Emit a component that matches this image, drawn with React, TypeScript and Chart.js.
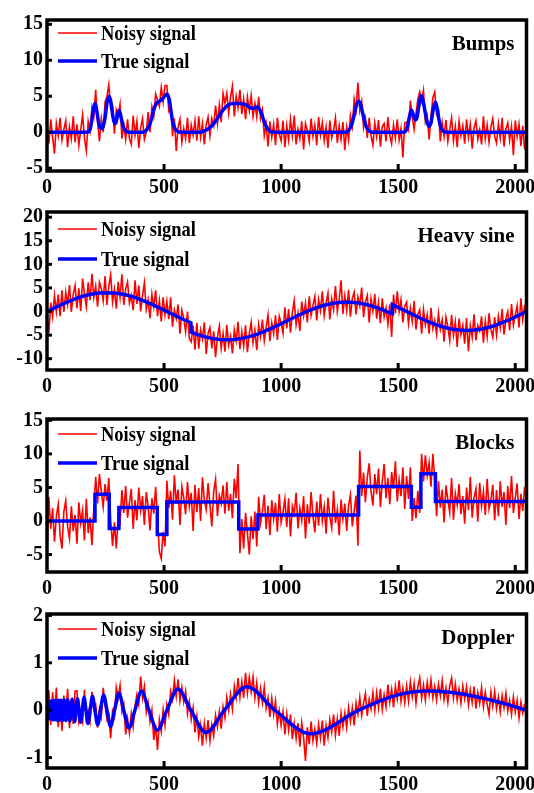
import React, { useEffect, useRef } from "react";
import { Chart, registerables } from "chart.js";

Chart.register(...registerables);

// ---------------- shared axis data ----------------
const X_TICKS = [0, 500, 1000, 1500, 2000];
const X_MAX = 2048;
const SAMPLE_STEP = 8; // spacing (in samples) of the noisy values below

// ---------------- Bumps ----------------
const BUMPS_Y_TICKS = [-5, 0, 5, 10, 15];
const BUMPS_NOISY = [
  0.9,-1.6,1.8,-0.7,-3.0,1.2,-0.5,2.0,-1.1,0.4,1.6,-2.1,0.7,-0.9,2.2,-1.4,
  1.1,-1.8,0.3,2.4,-0.8,-2.6,1.5,0.2,3.4,2.2,5.9,1.4,-1.3,1.9,0.0,4.2,
  5.0,6.6,3.2,3.5,-0.2,3.1,2.3,3.9,-0.9,1.0,-1.0,1.8,-0.9,-1.7,2.3,-0.4,
  1.5,-2.2,0.6,1.9,-1.0,0.0,2.8,0.0,3.5,2.2,5.3,4.5,3.6,6.2,4.2,6.5,
  6.5,3.1,4.1,-0.6,1.9,-2.6,0.7,1.8,-1.4,0.5,-0.9,2.0,-1.5,1.0,-0.4,1.6,
  -1.2,2.2,-0.7,1.2,-1.7,1.0,2.1,-0.5,1.9,0.9,3.7,1.2,3.8,1.4,5.4,4.0,
  5.4,2.6,4.9,6.4,2.2,5.0,3.4,5.9,2.5,4.6,1.8,4.9,3.0,5.1,2.2,4.0,
  2.1,4.9,1.9,3.1,-0.5,1.1,-2.0,1.5,-0.7,1.1,-1.8,2.0,-0.3,-1.2,1.6,-2.1,
  0.9,-1.1,1.8,-0.5,2.3,-1.7,0.4,-0.9,1.5,-2.4,1.2,0.2,-1.3,1.9,-0.6,1.0,
  -1.8,2.1,-0.4,1.3,-1.2,0.7,-2.2,1.6,-0.8,0.3,2.0,-1.5,0.9,-1.0,1.4,-2.5,
  0.7,-1.1,2.3,0.8,4.6,3.1,6.9,3.0,4.3,0.6,1.9,-0.8,2.0,-0.5,-1.8,1.3,
  -0.6,1.7,-2.0,0.8,1.2,-1.3,2.1,-0.4,-1.6,1.0,-0.8,1.8,-1.1,0.5,-3.5,1.3,
  1.4,0.4,4.4,2.1,0.4,2.6,4.6,5.6,4.3,5.8,1.4,2.3,-1.0,2.2,4.8,5.6,
  2.5,3.0,-1.3,1.3,-0.6,1.7,-1.3,0.4,2.0,-1.2,0.8,-2.1,1.5,-0.5,0.9,-1.6,
  1.8,-0.7,1.1,-2.3,0.6,1.6,-1.0,0.3,-1.7,2.2,-0.9,1.0,-1.4,0.7,1.9,-0.6,
  -1.5,1.2,-0.8,2.0,-2.0,0.5,1.3,-1.1,0.8,-3.2,1.6,-0.6,1.1,-1.9,0.9,-2.4,
];
const BUMPS_TRUE_X = [
  0,175,185,193,200,205,210,217,225,232,240,248,256,265,273,281,289,296,302,307,
  313,320,328,338,350,410,425,438,450,460,470,485,498,512,520,528,536,545,556,570,
  650,670,690,710,730,750,770,790,830,850,865,880,895,905,915,925,935,945,958,975,
  1275,1290,1302,1312,1322,1331,1340,1350,1360,1372,1387,1525,1537,1546,1556,1565,1573,1580,1588,1597,
  1606,1614,1622,1631,1640,1649,1659,1667,1675,1684,1695,1710,2047,
];
const BUMPS_TRUE_Y = [
  0,0,0.5,2.0,3.5,4.0,3.5,2.0,0.8,0.5,0.8,2.0,4.0,5.0,4.2,2.3,1.2,1.5,2.5,3.0,
  2.6,1.5,0.6,0.15,0,0,0.3,1.0,2.3,3.5,4.1,4.4,4.8,5.3,4.8,3.3,1.6,0.6,0.15,0,
  0,0.15,0.5,1.1,2.0,3.0,3.7,4.0,4.0,3.8,3.45,3.3,3.5,3.3,2.7,1.7,0.9,0.35,0.05,0,
  0,0.3,1.1,2.4,3.8,4.3,3.8,2.4,1.1,0.3,0,0,0.5,1.8,3.1,2.4,1.7,2.0,3.6,5.1,
  4.4,3.0,1.6,0.8,1.3,3.0,4.2,3.2,1.6,0.5,0.1,0,0,
];

// ---------------- Heavy sine ----------------
const HEAVY_Y_TICKS = [-10, -5, 0, 5, 10, 15, 20];
const HEAVY_NOISY = [
  -0.5,-4.6,1.9,-1.1,3.4,-0.1,3.6,-1.0,4.5,-0.1,4.1,1.5,5.6,-0.1,3.6,5.5,
  0.7,4.9,0.1,7.0,3.7,1.0,6.2,2.4,8.0,3.0,5.4,1.0,6.2,4.9,2.3,7.5,
  1.4,5.4,7.8,2.0,4.7,0.6,6.3,3.0,7.9,1.4,4.8,6.3,1.8,3.4,0.3,6.6,
  1.6,5.5,0.0,3.4,6.1,0.5,2.5,-1.4,3.7,1.0,4.5,-1.0,2.3,-2.1,3.0,-0.7,
  2.2,-1.6,3.0,-3.2,0.3,-1.5,1.5,-4.7,0.3,-1.4,-4.3,0.0,-5.7,-6.4,-3.0,-8.1,
  -2.4,-7.9,-3.9,-5.8,-2.3,-9.0,-4.6,-3.4,-7.8,-4.2,-9.7,-5.4,-3.1,-7.8,-4.7,-8.5,
  -2.8,-7.1,-5.2,-8.9,-3.9,-6.2,-2.2,-8.0,-4.3,-7.3,-2.9,-8.6,-4.7,-2.3,-6.6,-4.0,
  -8.2,-2.8,-5.3,-1.7,-6.2,-3.4,-0.7,-6.3,-2.4,-4.7,-0.8,-6.0,-1.0,-2.4,-4.6,0.9,
  -3.6,0.5,-4.5,-0.2,2.3,-2.8,-0.3,-4.1,2.1,-0.9,1.8,-2.3,3.2,-0.8,1.3,3.2,
  -1.9,2.5,0.2,4.3,-0.9,1.8,3.9,-1.7,2.7,0.4,5.4,0.0,2.6,6.6,-0.5,3.3,
  0.2,4.6,-1.1,2.8,4.1,-0.6,3.1,1.2,5.1,-1.2,2.1,3.4,-2.3,2.7,0.1,3.7,
  -1.5,1.9,-2.5,2.8,-1.2,0.8,-2.7,1.5,-5.4,3.6,-0.4,4.3,0.0,2.5,-2.3,1.1,
  2.0,-2.6,0.7,-2.1,2.2,-3.8,-0.6,0.4,-4.7,0.4,-2.8,-0.7,-4.7,0.8,-3.6,-1.9,
  -4.8,-0.4,-3.8,-1.8,-6.4,-1.2,-3.2,-6.1,-0.7,-5.0,-2.2,-7.5,-1.5,-4.9,-2.9,-6.8,
  -1.4,-8.4,-3.0,-5.5,-0.6,-6.1,-3.0,-4.1,-1.0,-6.6,-2.0,-5.3,-0.4,-3.8,-5.5,-1.2,
  -5.0,-1.0,-3.5,0.5,-4.9,-1.5,0.0,-4.0,1.6,-2.9,-0.8,1.2,-3.4,2.8,-1.7,1.4,
];
const HEAVY_TRUE_X = [
  0,32,64,96,128,160,192,224,256,288,320,352,384,416,448,480,512,544,576,608,614,615,
  640,672,704,736,768,800,832,864,896,928,960,992,1024,1056,1088,1120,1152,1184,1216,1248,
  1280,1312,1344,1376,1408,1440,1472,1474,1475,1504,1536,1568,1600,1632,1664,1696,1728,1760,
  1792,1824,1856,1888,1920,1952,1984,2016,2047,
];
const HEAVY_TRUE_Y = [
  0,0.78,1.53,2.22,2.83,3.33,3.70,3.92,4.0,3.92,3.70,3.33,2.83,2.22,1.53,0.78,0,-0.78,-1.53,-2.22,-2.35,-4.35,
  -4.83,-5.33,-5.70,-5.92,-6.0,-5.92,-5.70,-5.33,-4.83,-4.22,-3.53,-2.78,-2.0,-1.22,-0.47,0.22,0.83,1.33,1.70,1.92,
  2.0,1.92,1.70,1.33,0.83,0.22,-0.47,-0.53,1.47,0.78,0,-0.78,-1.53,-2.22,-2.83,-3.33,-3.70,-3.92,
  -4.0,-3.92,-3.70,-3.33,-2.83,-2.22,-1.53,-0.78,0,
];

// ---------------- Blocks ----------------
const BLOCKS_Y_TICKS = [-5, 0, 5, 10, 15];
const BLOCKS_NOISY = [
  -4.8,3.6,-1.2,1.9,-3.1,0.7,2.5,-2.2,-4.1,1.4,3.0,-0.8,-2.6,2.2,-1.5,0.9,
  -3.4,2.8,-0.3,1.6,-2.9,3.3,-1.8,0.5,-3.6,2.0,6.6,2.6,7.0,4.4,2.1,5.5,
  3.0,6.4,0.2,-3.7,-0.2,-4.1,0.7,-0.3,4.6,1.2,5.2,0.5,2.7,4.8,-1.2,3.1,
  0.1,5.0,1.6,3.7,-0.6,4.3,2.1,-1.4,3.4,1.1,5.1,0.3,-4.6,-5.6,-1.6,-3.8,
  6.0,1.9,4.5,0.2,6.8,2.6,4.7,-0.6,5.1,3.5,1.0,5.8,2.2,4.2,-1.5,5.4,
  1.3,4.9,0.0,6.5,3.1,1.7,5.6,2.4,-0.8,4.4,6.2,0.7,3.8,2.6,5.3,1.1,
  5.8,1.5,4.0,0.4,6.3,3.4,8.5,-4.8,0.3,-4.1,1.2,-1.8,-5.0,0.7,-2.7,1.4,
  -3.8,3.6,-0.3,1.4,3.9,-1.2,2.3,-2.1,3.1,0.3,2.7,-1.6,4.0,-0.2,1.3,3.3,
  -0.9,3.4,-2.3,2.2,1.1,4.2,-1.1,1.9,0.1,3.7,-2.6,2.5,-0.4,4.3,0.7,-1.7,
  2.9,-0.7,4.0,0.0,2.1,-1.9,3.5,0.6,-1.0,4.5,-0.3,1.7,-2.1,3.2,0.3,2.6,
  -1.5,2.3,3.9,-0.8,1.5,3.8,-3.7,10.5,3.7,7.2,2.8,6.5,8.6,4.4,2.3,7.0,
  4.0,7.8,2.1,5.9,8.5,3.4,6.4,2.5,7.3,4.8,8.9,2.9,6.1,3.7,8.0,1.8,
  6.7,3.3,8.0,0.0,3.4,0.4,4.5,1.2,10.0,5.9,9.8,6.8,8.7,5.1,10.0,6.2,
  0.7,5.9,2.0,4.7,-0.2,5.3,3.2,1.3,6.4,0.2,4.1,2.4,5.5,1.0,3.7,-0.4,
  5.0,1.6,6.6,0.5,3.5,4.8,-0.1,5.7,2.2,4.4,0.9,6.3,1.8,3.1,5.4,0.1,
  4.6,0.7,5.9,2.1,4.3,-0.6,5.2,1.9,6.7,1.2,3.4,5.6,0.3,4.0,1.5,5.1,
];
const BLOCKS_TRUE_X = [0,205,205,266,266,307,307,471,471,512,512,819,819,901,901,1331,1331,1556,1556,1597,1597,1659,1659,2047];
const BLOCKS_TRUE_Y = [0,0,4,4,-1.1,-1.1,2,2,-2,-2,2.85,2.85,-1.2,-1.2,0.9,0.9,5.15,5.15,2.05,2.05,7.05,7.05,2.9,2.9];

// ---------------- Doppler ----------------
const DOPPLER_Y_TICKS = [-1, 0, 1, 2];
const DOPPLER_NOISY = [
  -0.55,0.42,-0.31,0.38,-0.12,0.48,-0.36,0.22,-0.44,0.31,-0.18,0.45,-0.38,0.12,-0.29,0.40,
  0.41,-0.26,-0.12,-0.26,0.43,-0.17,-0.01,-0.23,0.39,0.02,0.11,-0.37,0.02,-0.15,0.47,0.13,
  -0.20,-0.11,-0.59,-0.02,-0.14,0.48,0.26,0.52,-0.03,0.12,-0.51,-0.18,-0.48,-0.07,-0.35,0.09,
  0.33,0.12,0.71,0.26,0.50,-0.05,0.16,-0.24,0.00,-0.63,-0.31,-0.84,-0.20,-0.45,0.01,-0.32,
  0.12,-0.09,0.40,0.23,0.63,0.29,0.65,0.20,0.48,0.17,0.40,-0.07,0.18,-0.20,0.05,-0.47,
  -0.13,-0.56,-0.31,-0.75,-0.28,-0.59,-0.21,-0.65,-0.31,-0.54,-0.11,-0.35,-0.03,-0.39,0.07,-0.16,
  0.27,0.00,0.33,0.02,0.51,0.26,0.68,0.27,0.60,0.26,0.79,0.36,0.69,0.39,0.70,0.26,
  0.58,0.16,0.46,0.16,0.49,0.04,0.26,-0.14,0.25,-0.09,0.19,-0.30,-0.01,-0.32,-0.03,-0.51,
  -0.08,-0.42,-0.09,-0.61,-0.27,-0.60,-0.27,-0.77,-0.27,-0.58,-1.07,-0.36,-0.72,-0.24,-0.65,-0.40,
  -0.70,-0.30,-0.59,-0.22,-0.75,-0.32,-0.58,-0.20,-0.46,-0.09,-0.53,-0.18,-0.54,-0.06,-0.35,-0.06,
  -0.37,0.06,-0.24,0.05,-0.32,0.15,-0.08,0.27,-0.11,0.15,0.35,-0.12,0.23,0.03,0.37,-0.01,
  0.37,0.05,0.45,0.01,0.32,0.07,0.54,0.17,0.44,0.06,0.50,0.24,0.63,0.19,0.47,0.16,
  0.51,0.19,0.60,0.28,0.56,0.15,0.49,0.68,0.25,0.53,0.21,0.59,0.32,0.64,0.26,0.50,
  0.21,0.55,0.30,0.63,0.22,0.47,0.16,0.51,0.68,0.25,0.55,0.21,0.45,0.15,0.51,0.24,
  0.49,0.11,0.43,0.16,0.50,0.03,0.37,0.14,0.48,0.07,0.38,0.13,-0.09,0.38,0.08,0.39,
  0.03,0.28,-0.04,0.31,0.05,0.36,-0.02,0.21,-0.09,0.28,-0.04,0.21,-0.17,0.17,-0.06,0.13,
];
const DOPPLER_TRUE_X = [
  0,1.2,2.5,3.8,5.1,6.5,7.9,9.3,10.8,12.3,13.8,15.4,17.1,18.7,20.5,22.3,24.1,26,27.9,29.9,
  32,34.1,36.3,38.6,41,43.4,45.9,48.5,51.2,54,56.9,59.9,63,66.3,69.6,73.1,76.8,80.6,84.6,88.7,
  93.1,97.6,102.4,107.4,112.6,118.2,124,130.1,136.5,143.4,150.6,158.3,166.4,175.1,184.3,194.2,204.8,216.2,228.4,241.7,
  256,271.6,288.6,307.2,327.7,350.3,375.5,403.6,435.2,471,512,559.3,614.4,679.6,757.8,853,972.8,1126,1331.2,1440,
  1520,1618,1720,1840,1960,2047,
];
const DOPPLER_TRUE_Y = [
  0,-0.15,0,0.16,0,-0.17,0,0.18,0,-0.18,0,0.19,0,-0.19,0,0.2,0,-0.2,0,0.2,
  0,-0.2,0,0.21,0,-0.21,0,0.21,0,-0.21,0,0.21,0,-0.22,0,0.22,0,-0.22,0,0.22,
  0,-0.23,0,0.23,0,-0.24,0,0.244,0,-0.255,0,0.267,0,-0.28,0,0.293,0,-0.307,0,0.323,
  0,-0.339,0,0.357,0,-0.377,0,0.398,0,-0.421,0,0.446,0,-0.471,0,0.493,0,-0.497,0,0.23,
  0.35,0.407,0.38,0.28,0.13,0,
];

// ---------------- styling ----------------
const RED = "#ff0000";
const BLUE = "#0000ff";
const FONT = '"Liberation Serif", "Times New Roman", serif';
const PAGE_W = 534;
const PAGE_H = 793;
const AREA_LEFT = 47;
const AREA_RIGHT = 526.5;

type Panel = {
  title: string;
  noisy: number[];
  trueX: number[];
  trueY: number[];
  yTicks: number[];
  yMin: number;
  yMax: number;
  smooth: boolean;
  areaTop: number;
  areaBottom: number;
  legendDy: [number, number];
};

const PANELS: Panel[] = [
  { title: "Bumps", noisy: BUMPS_NOISY, trueX: BUMPS_TRUE_X, trueY: BUMPS_TRUE_Y, yTicks: BUMPS_Y_TICKS,
    yMin: -5.4, yMax: 15.6, smooth: true, areaTop: 20, areaBottom: 171, legendDy: [13, 41] },
  { title: "Heavy sine", noisy: HEAVY_NOISY, trueX: HEAVY_TRUE_X, trueY: HEAVY_TRUE_Y, yTicks: HEAVY_Y_TICKS,
    yMin: -12.4, yMax: 21.1, smooth: false, areaTop: 212, areaBottom: 370, legendDy: [17, 47] },
  { title: "Blocks", noisy: BLOCKS_NOISY, trueX: BLOCKS_TRUE_X, trueY: BLOCKS_TRUE_Y, yTicks: BLOCKS_Y_TICKS,
    yMin: -7.6, yMax: 15.2, smooth: false, areaTop: 419, areaBottom: 572, legendDy: [15, 44] },
  { title: "Doppler", noisy: DOPPLER_NOISY, trueX: DOPPLER_TRUE_X, trueY: DOPPLER_TRUE_Y, yTicks: DOPPLER_Y_TICKS,
    yMin: -1.22, yMax: 2.03, smooth: true, areaTop: 614, areaBottom: 768, legendDy: [15, 44] },
];

function squeezedText(ctx: CanvasRenderingContext2D, text: string, x: number, y: number, align: CanvasTextAlign, sx: number) {
  ctx.save();
  ctx.translate(x, y);
  ctx.scale(sx, 1);
  ctx.textAlign = align;
  ctx.fillText(text, 0, 0);
  ctx.restore();
}

function makeFramePlugin(p: Panel) {
  return {
    id: "frame",
    afterDraw(chart: any) {
      const ctx: CanvasRenderingContext2D = chart.ctx;
      const a = chart.chartArea;
      const xs = chart.scales.x;
      const ys = chart.scales.y;
      const seg = (x0: number, y0: number, x1: number, y1: number) => {
        ctx.beginPath();
        ctx.moveTo(x0, y0);
        ctx.lineTo(x1, y1);
        ctx.stroke();
      };
      ctx.save();
      ctx.lineCap = "butt";

      // legend
      const lx0 = a.left + 11;
      const lx1 = a.left + 50;
      const ly1 = a.top + p.legendDy[0];
      const ly2 = a.top + p.legendDy[1];
      ctx.strokeStyle = RED;
      ctx.lineWidth = 1.5;
      seg(lx0, ly1, lx1, ly1);
      ctx.strokeStyle = BLUE;
      ctx.lineWidth = 3.5;
      seg(lx0, ly2, lx1, ly2);
      ctx.fillStyle = "#000";
      ctx.textBaseline = "alphabetic";
      ctx.font = `bold 21px ${FONT}`;
      squeezedText(ctx, "Noisy signal", a.left + 54, ly1 + 7, "left", 0.88);
      squeezedText(ctx, "True signal", a.left + 54, ly2 + 7, "left", 0.88);

      // title inside the plot
      ctx.font = `bold 22px ${FONT}`;
      squeezedText(ctx, p.title, a.right - 12, a.top + 30, "right", 0.95);

      // frame
      ctx.strokeStyle = "#000";
      ctx.lineWidth = 3.5;
      ctx.strokeRect(a.left, a.top, a.right - a.left, a.bottom - a.top);

      // ticks and tick labels
      ctx.lineWidth = 3;
      ctx.font = `bold 20px ${FONT}`;
      ctx.textBaseline = "middle";
      const eps = 1e-6;
      for (const v of p.yTicks) {
        const y = ys.getPixelForValue(v);
        if (v > p.yMin + eps && v < p.yMax - eps) seg(a.left, y, a.left + 5, y);
        squeezedText(ctx, String(v), a.left - 4, y, "right", 1);
      }
      for (const v of X_TICKS) {
        const x = xs.getPixelForValue(v);
        if (v > 0) seg(x, a.bottom, x, a.bottom - 7);
        squeezedText(ctx, String(v), x, a.bottom + 17, "center", 1);
      }
      ctx.restore();
    },
  };
}

function PanelChart({ p }: { p: Panel }) {
  const ref = useRef<HTMLCanvasElement | null>(null);
  const canvasTop = Math.max(0, p.areaTop - 24);
  const canvasBottom = Math.min(PAGE_H, p.areaBottom + 32);
  const h = canvasBottom - canvasTop;

  useEffect(() => {
    const canvas = ref.current;
    if (!canvas) return;
    const chart = new Chart(canvas, {
      type: "line",
      data: {
        datasets: [
          {
            label: "True signal",
            data: p.trueX.map((x, i) => ({ x, y: p.trueY[i] })),
            borderColor: BLUE,
            backgroundColor: BLUE,
            borderWidth: 3.5,
            pointRadius: 0,
            fill: false,
            tension: 0,
            cubicInterpolationMode: p.smooth ? "monotone" : "default",
          },
          {
            label: "Noisy signal",
            data: p.noisy.map((y, i) => ({ x: i * SAMPLE_STEP, y })),
            borderColor: RED,
            backgroundColor: RED,
            borderWidth: 1.6,
            pointRadius: 0,
            fill: false,
            tension: 0,
          },
        ],
      },
      options: {
        responsive: false,
        maintainAspectRatio: false,
        animation: false,
        events: [],
        layout: {
          padding: {
            left: AREA_LEFT,
            right: PAGE_W - AREA_RIGHT,
            top: p.areaTop - canvasTop,
            bottom: canvasBottom - p.areaBottom,
          },
        },
        scales: {
          x: { type: "linear", min: 0, max: X_MAX, display: false },
          y: { type: "linear", min: p.yMin, max: p.yMax, display: false },
        },
        plugins: {
          legend: { display: false },
          tooltip: { enabled: false },
          title: { display: false },
        },
      } as any,
      plugins: [makeFramePlugin(p)],
    } as any);
    return () => chart.destroy();
  }, [p]);

  return (
    <canvas
      ref={ref}
      width={PAGE_W}
      height={h}
      style={{ position: "absolute", left: 0, top: canvasTop, width: PAGE_W, height: h }}
    />
  );
}

export default function App() {
  return (
    <div
      style={{
        position: "absolute",
        left: 0,
        top: 0,
        width: PAGE_W,
        height: PAGE_H,
        overflow: "hidden",
        background: "#fff",
      }}
    >
      {PANELS.map((p) => (
        <PanelChart key={p.title} p={p} />
      ))}
    </div>
  );
}
